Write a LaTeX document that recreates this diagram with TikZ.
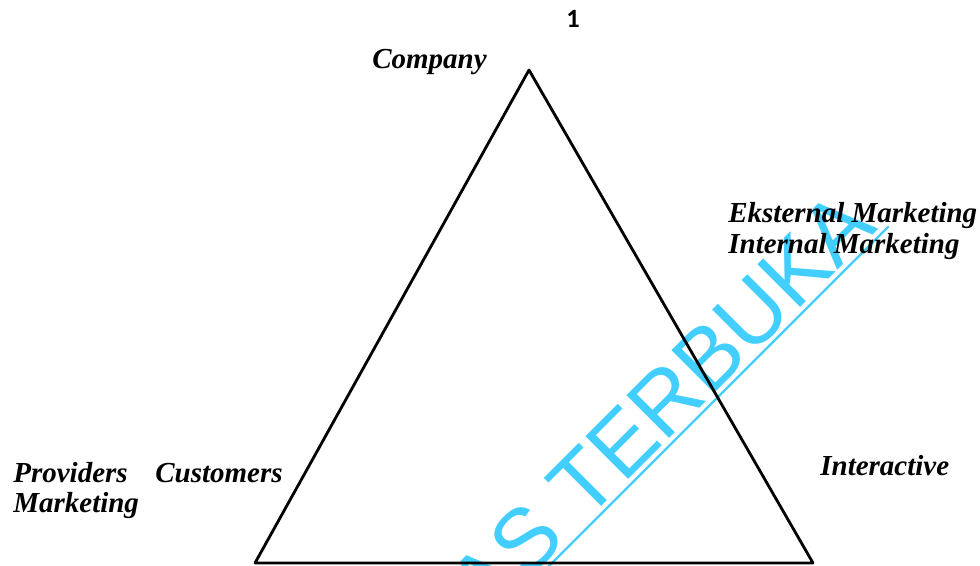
\documentclass[tikz,border=0pt]{standalone}
\usepackage{fontspec}
\setmainfont{Liberation Serif}
\newfontfamily\wmfont{Liberation Sans}
\newfontfamily\pgfont{Carlito}
\definecolor{wmcyan}{RGB}{66,206,255}
\begin{document}
\begin{tikzpicture}[x=0.02cm,y=-0.02cm,line join=round,line cap=round,
	lbl/.style={anchor=base west,inner sep=0pt,font=\fontsize{16.5}{20}\selectfont\bfseries\itshape},
	wm/.style={anchor=base east,inner sep=0pt,rotate=45,text=wmcyan,font=\wmfont\fontsize{50}{60}\selectfont}]
	\useasboundingbox (0,0) rectangle (980,565);
	\clip (0,0) rectangle (980,565);
	% watermark under everything
	\node[wm] (wmark) at (879,229) {AS TERBUKA};
	\coordinate (ul1) at (888,227);
	\coordinate (ul2) at (500,615);
	\draw[wmcyan,line width=1.3pt] (ul1)--(ul2);
	% triangle
	\coordinate (apex) at (529,70);
	\coordinate (bl) at (255,563);
	\coordinate (br) at (813,563);
	\draw[line width=1.6pt] (apex)--(bl)--(br)--cycle;
	% labels
	\node[lbl] (company) at (372,68) {Company};
	\node[lbl] (ext) at (728,222) {Eksternal Marketing};
	\node[lbl] (int) at (728,253) {Internal Marketing};
	\node[lbl] (inter) at (820,475) {Interactive};
	\node[lbl] (prov) at (13,482) {Providers};
	\node[lbl] (provm) at (13,512) {Marketing};
	\node[lbl] (cust) at (155,482) {Customers};
	\node[anchor=base,inner sep=0pt,font=\pgfont\bfseries\fontsize{15}{18}\selectfont] (pgno) at (573,27) {1};
\end{tikzpicture}
\end{document}
